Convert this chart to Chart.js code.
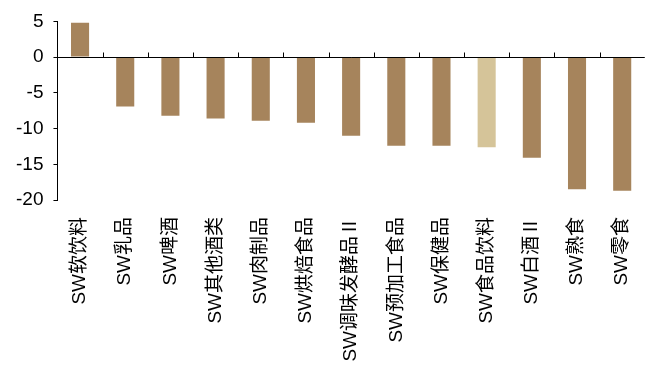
<!DOCTYPE html>
<html>
<head>
<meta charset="utf-8">
<script src="https://cdn.jsdelivr.net/npm/chart.js@4.4.1/dist/chart.umd.min.js"></script>
<style>
    html, body { margin: 0; padding: 0; background: #fff; }
    #wrap { width: 654px; height: 374px; }
</style>
</head>
<body>
<div id="wrap"><canvas id="graph-bar"></canvas></div>
<script>
var categories = ['SW软饮料', 'SW乳品', 'SW啤酒', 'SW其他酒类', 'SW肉制品', 'SW烘焙食品',
    'SW调味发酵品Ⅱ', 'SW预加工食品', 'SW保健品', 'SW食品饮料', 'SW白酒Ⅱ', 'SW熟食', 'SW零食'];
var changes = [4.8, -6.9, -8.2, -8.6, -8.9, -9.2, -11.0, -12.4, -12.4, -12.6, -14.1, -18.5, -18.7];
var highlight = 'SW食品饮料';
var yTicks = [5, 0, -5, -10, -15, -20];

var fontFamily = '"Liberation Sans", Arial, "Noto Sans CJK SC", sans-serif';

// small upward tick marks on the zero line, between categories
var zeroTicks = {
    id: 'zeroTicks',
    afterDatasetsDraw: function (chart) {
        var x = chart.scales.x, y = chart.scales.y;
        var ctx = chart.ctx;
        var y0 = Math.round(y.getPixelForValue(0)) + 0.5;
        ctx.save();
        ctx.strokeStyle = '#000';
        ctx.lineWidth = 1;
        ctx.beginPath();
        ctx.moveTo(chart.chartArea.left, y0);
        ctx.lineTo(chart.chartArea.right, y0);
        for (var i = 1; i < categories.length; i++) {
            var px = Math.round((x.getPixelForTick(i - 1) + x.getPixelForTick(i)) / 2) + 0.5;
            ctx.moveTo(px, y0);
            ctx.lineTo(px, y0 - 5);
        }
        ctx.stroke();
        ctx.restore();
    }
};

createGraphBar();

function createGraphBar() {
    var ctx = document.getElementById('graph-bar').getContext('2d');

    var data = {
        labels: categories,
        datasets: [{
            data: changes,
            backgroundColor: categories.map(function (c) {
                return c === highlight ? '#D5C499' : '#A6845C';
            }),
            barPercentage: 0.4,
            categoryPercentage: 1.0
        }]
    };

    var options = {
        responsive: true,
        maintainAspectRatio: false,
        animation: false,
        layout: { padding: { top: 7, left: 6, right: 0, bottom: 0 } },
        plugins: {
            legend: { display: false },
            tooltip: { enabled: false }
        },
        scales: {
            x: {
                grid: { display: false },
                border: { display: false },
                ticks: {
                    color: '#000',
                    font: { family: fontFamily, size: 19 },
                    minRotation: 90,
                    maxRotation: 90,
                    autoSkip: false,
                    padding: 9
                },
                afterFit: function (scale) { scale.height = 174; }
            },
            y: {
                min: -20,
                max: 5,
                afterBuildTicks: function (scale) {
                    scale.ticks = yTicks.map(function (v) { return { value: v }; });
                },
                grid: {
                    drawOnChartArea: false,
                    tickLength: 4,
                    tickColor: '#000'
                },
                border: { display: true, color: '#000' },
                ticks: {
                    color: '#000',
                    font: { family: fontFamily, size: 19 },
                    padding: 10
                }
            }
        }
    };

    var chart = new Chart(ctx, {
        type: 'bar',
        data: data,
        options: options,
        plugins: [zeroTicks]
    });
}
</script>
</body>
</html>
